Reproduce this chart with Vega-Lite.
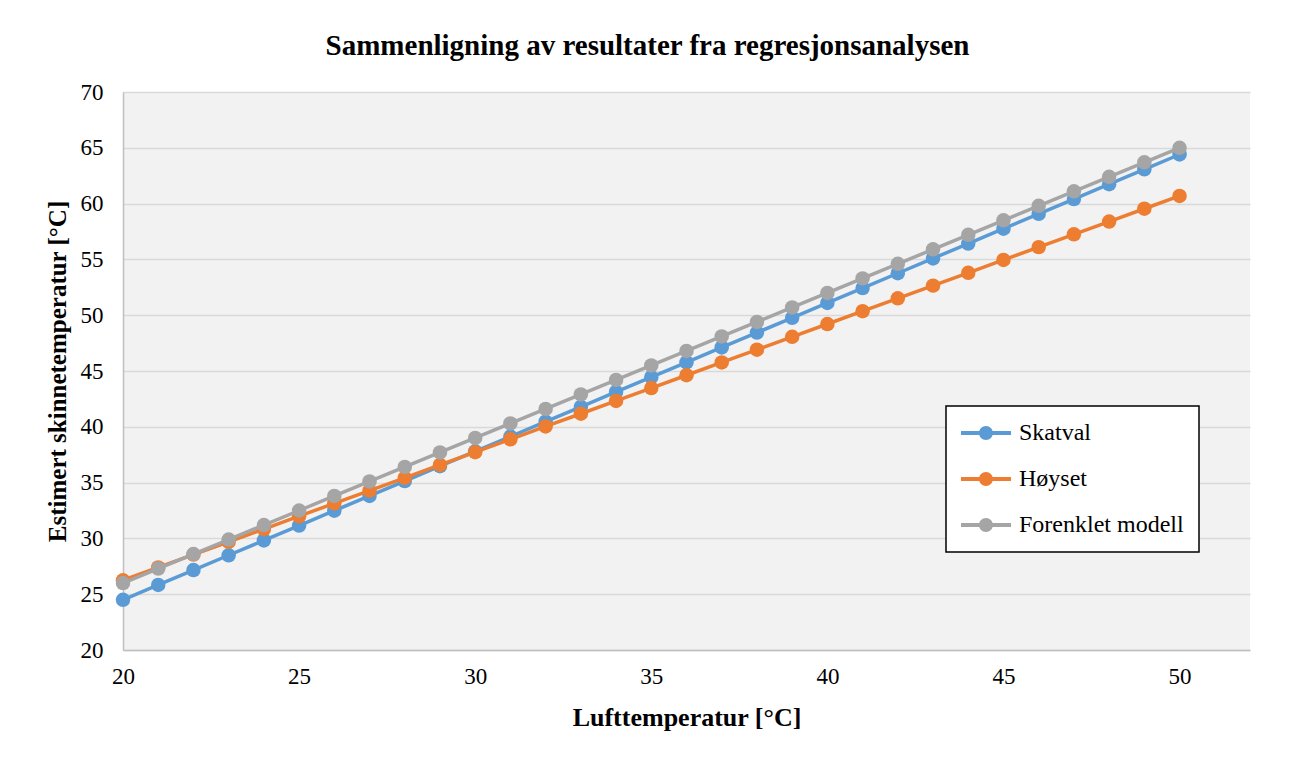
{
  "$schema": "https://vega.github.io/schema/vega-lite/v6.json",
  "width": 1127,
  "height": 558,
  "autosize": {"type": "none"},
  "padding": {"left": 123, "top": 92, "right": 48, "bottom": 108},
  "background": "white",
  "config": {
    "view": {"fill": "#f2f2f2", "stroke": null},
    "font": "Liberation Serif",
    "axis": {"labelFont": "Liberation Serif", "titleFont": "Liberation Serif", "labelColor": "#000000", "titleColor": "#000000"}
  },
  "title": {
    "text": "Sammenligning av resultater fra regresjonsanalysen",
    "font": "Liberation Serif",
    "fontSize": 29,
    "fontWeight": "bold",
    "color": "#000000",
    "anchor": "middle",
    "frame": "bounds",
    "offset": 20
  },
  "data": {
    "values": [
      {"t": 20, "s": "Skatval", "v": 24.5}, {"t": 21, "s": "Skatval", "v": 25.83}, {"t": 22, "s": "Skatval", "v": 27.16}, {"t": 23, "s": "Skatval", "v": 28.49}, {"t": 24, "s": "Skatval", "v": 29.82}, {"t": 25, "s": "Skatval", "v": 31.15}, {"t": 26, "s": "Skatval", "v": 32.48}, {"t": 27, "s": "Skatval", "v": 33.81}, {"t": 28, "s": "Skatval", "v": 35.14}, {"t": 29, "s": "Skatval", "v": 36.47}, {"t": 30, "s": "Skatval", "v": 37.8}, {"t": 31, "s": "Skatval", "v": 39.13}, {"t": 32, "s": "Skatval", "v": 40.46}, {"t": 33, "s": "Skatval", "v": 41.79}, {"t": 34, "s": "Skatval", "v": 43.12}, {"t": 35, "s": "Skatval", "v": 44.45}, {"t": 36, "s": "Skatval", "v": 45.78}, {"t": 37, "s": "Skatval", "v": 47.11}, {"t": 38, "s": "Skatval", "v": 48.44}, {"t": 39, "s": "Skatval", "v": 49.77}, {"t": 40, "s": "Skatval", "v": 51.1}, {"t": 41, "s": "Skatval", "v": 52.43}, {"t": 42, "s": "Skatval", "v": 53.76}, {"t": 43, "s": "Skatval", "v": 55.09}, {"t": 44, "s": "Skatval", "v": 56.42}, {"t": 45, "s": "Skatval", "v": 57.75}, {"t": 46, "s": "Skatval", "v": 59.08}, {"t": 47, "s": "Skatval", "v": 60.41}, {"t": 48, "s": "Skatval", "v": 61.74}, {"t": 49, "s": "Skatval", "v": 63.07}, {"t": 50, "s": "Skatval", "v": 64.4},
      {"t": 20, "s": "Høyset", "v": 26.25}, {"t": 21, "s": "Høyset", "v": 27.4}, {"t": 22, "s": "Høyset", "v": 28.55}, {"t": 23, "s": "Høyset", "v": 29.69}, {"t": 24, "s": "Høyset", "v": 30.84}, {"t": 25, "s": "Høyset", "v": 31.99}, {"t": 26, "s": "Høyset", "v": 33.14}, {"t": 27, "s": "Høyset", "v": 34.29}, {"t": 28, "s": "Høyset", "v": 35.43}, {"t": 29, "s": "Høyset", "v": 36.58}, {"t": 30, "s": "Høyset", "v": 37.73}, {"t": 31, "s": "Høyset", "v": 38.88}, {"t": 32, "s": "Høyset", "v": 40.03}, {"t": 33, "s": "Høyset", "v": 41.17}, {"t": 34, "s": "Høyset", "v": 42.32}, {"t": 35, "s": "Høyset", "v": 43.47}, {"t": 36, "s": "Høyset", "v": 44.62}, {"t": 37, "s": "Høyset", "v": 45.77}, {"t": 38, "s": "Høyset", "v": 46.91}, {"t": 39, "s": "Høyset", "v": 48.06}, {"t": 40, "s": "Høyset", "v": 49.21}, {"t": 41, "s": "Høyset", "v": 50.36}, {"t": 42, "s": "Høyset", "v": 51.51}, {"t": 43, "s": "Høyset", "v": 52.65}, {"t": 44, "s": "Høyset", "v": 53.8}, {"t": 45, "s": "Høyset", "v": 54.95}, {"t": 46, "s": "Høyset", "v": 56.1}, {"t": 47, "s": "Høyset", "v": 57.25}, {"t": 48, "s": "Høyset", "v": 58.39}, {"t": 49, "s": "Høyset", "v": 59.54}, {"t": 50, "s": "Høyset", "v": 60.69},
      {"t": 20, "s": "Forenklet modell", "v": 26.0}, {"t": 21, "s": "Forenklet modell", "v": 27.3}, {"t": 22, "s": "Forenklet modell", "v": 28.6}, {"t": 23, "s": "Forenklet modell", "v": 29.9}, {"t": 24, "s": "Forenklet modell", "v": 31.2}, {"t": 25, "s": "Forenklet modell", "v": 32.5}, {"t": 26, "s": "Forenklet modell", "v": 33.8}, {"t": 27, "s": "Forenklet modell", "v": 35.1}, {"t": 28, "s": "Forenklet modell", "v": 36.4}, {"t": 29, "s": "Forenklet modell", "v": 37.7}, {"t": 30, "s": "Forenklet modell", "v": 39.0}, {"t": 31, "s": "Forenklet modell", "v": 40.3}, {"t": 32, "s": "Forenklet modell", "v": 41.6}, {"t": 33, "s": "Forenklet modell", "v": 42.9}, {"t": 34, "s": "Forenklet modell", "v": 44.2}, {"t": 35, "s": "Forenklet modell", "v": 45.5}, {"t": 36, "s": "Forenklet modell", "v": 46.8}, {"t": 37, "s": "Forenklet modell", "v": 48.1}, {"t": 38, "s": "Forenklet modell", "v": 49.4}, {"t": 39, "s": "Forenklet modell", "v": 50.7}, {"t": 40, "s": "Forenklet modell", "v": 52.0}, {"t": 41, "s": "Forenklet modell", "v": 53.3}, {"t": 42, "s": "Forenklet modell", "v": 54.6}, {"t": 43, "s": "Forenklet modell", "v": 55.9}, {"t": 44, "s": "Forenklet modell", "v": 57.2}, {"t": 45, "s": "Forenklet modell", "v": 58.5}, {"t": 46, "s": "Forenklet modell", "v": 59.8}, {"t": 47, "s": "Forenklet modell", "v": 61.1}, {"t": 48, "s": "Forenklet modell", "v": 62.4}, {"t": 49, "s": "Forenklet modell", "v": 63.7}, {"t": 50, "s": "Forenklet modell", "v": 65.0}
    ]
  },
  "encoding": {
    "x": {
      "field": "t", "type": "quantitative",
      "scale": {"domain": [20, 52], "nice": false, "zero": false},
      "axis": {
        "title": "Lufttemperatur [°C]", "titleFontSize": 26, "titleFontWeight": "bold", "titlePadding": 16,
        "values": [20, 25, 30, 35, 40, 45, 50], "labelFontSize": 23, "labelPadding": 15,
        "ticks": false, "grid": false, "domainColor": "#bfbfbf", "domainWidth": 1.5, "labelFlush": false
      }
    },
    "y": {
      "field": "v", "type": "quantitative",
      "scale": {"domain": [20, 70], "nice": false, "zero": false},
      "axis": {
        "title": "Estimert skinnetemperatur [°C]", "titleFontSize": 25, "titleFontWeight": "bold", "titlePadding": 10,
        "values": [20, 25, 30, 35, 40, 45, 50, 55, 60, 65, 70], "labelFontSize": 23, "labelPadding": 20,
        "ticks": false, "grid": true, "gridColor": "#d9d9d9", "gridWidth": 1.5,
        "domainColor": "#bfbfbf", "domainWidth": 1.5, "labelFlush": false
      }
    },
    "color": {
      "field": "s", "type": "nominal",
      "scale": {"domain": ["Skatval", "Høyset", "Forenklet modell"], "range": ["#5b9bd5", "#ed7d31", "#a5a5a5"]},
      "legend": {
        "title": null, "orient": "none", "legendX": 823, "legendY": 314,
        "direction": "vertical",
        "fillColor": "white", "strokeColor": "#000000",
        "padding": 15, "rowPadding": 22,
        "symbolType": "M-1,-0.16L3.17,-0.16L3.17,0.16L-1,0.16ZM0.5,0A0.58,0.58,0,1,1,1.66,0A0.58,0.58,0,1,1,0.5,0Z",
        "symbolSize": 576, "symbolStrokeWidth": 0,
        "labelFont": "Liberation Serif", "labelFontSize": 24, "labelColor": "#000000", "labelOffset": 34, "labelLimit": 400,
        "encode": {
          "legend": {"update": {"strokeWidth": {"value": 1.5}}},
          "symbols": {"update": {"fill": {"scale": "color", "field": "value"}, "fillOpacity": {"value": 1}, "strokeWidth": {"value": 0}}}
        }
      }
    }
  },
  "layer": [
    {"transform": [{"filter": "datum.s === 'Skatval'"}], "mark": {"type": "line", "strokeWidth": 3.5}},
    {"transform": [{"filter": "datum.s === 'Skatval'"}], "mark": {"type": "point", "filled": true, "size": 210, "opacity": 1}},
    {"transform": [{"filter": "datum.s === 'Høyset'"}], "mark": {"type": "line", "strokeWidth": 3.5}},
    {"transform": [{"filter": "datum.s === 'Høyset'"}], "mark": {"type": "point", "filled": true, "size": 210, "opacity": 1}},
    {"transform": [{"filter": "datum.s === 'Forenklet modell'"}], "mark": {"type": "line", "strokeWidth": 3.5}},
    {"transform": [{"filter": "datum.s === 'Forenklet modell'"}], "mark": {"type": "point", "filled": true, "size": 210, "opacity": 1}}
  ]
}
